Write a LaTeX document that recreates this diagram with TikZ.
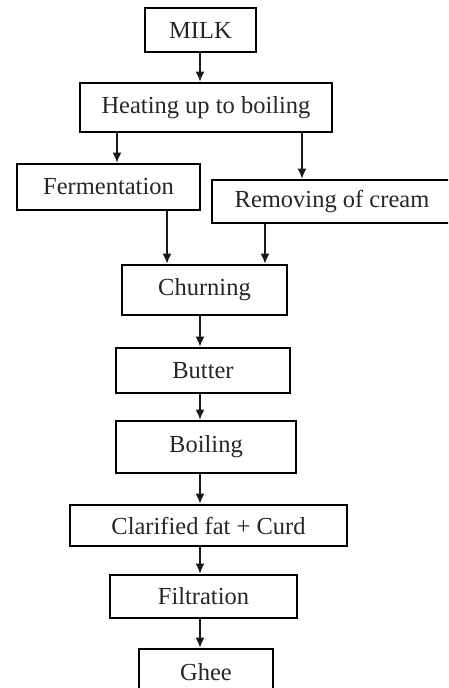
\documentclass[tikz,border=0pt]{standalone}
\usepackage{fontspec}
\setmainfont{Liberation Serif}
\usetikzlibrary{arrows.meta,positioning}

\tikzset{
  stage/.style={draw=black, line width=2.8pt, rectangle, inner sep=0pt,
    font=\fontsize{24.5}{28}\selectfont, text=black!85},
  flow/.style={-{Latex[length=10pt,width=9pt]}, line width=1.4pt, black!90},
}

\begin{document}
\begin{tikzpicture}[x=1pt, y=-1pt]

% canvas, cropped like the scan
\useasboundingbox (0,0) rectangle (448,688);
\clip (0,0) rectangle (448,688);

% Process stages
\node[stage, minimum width=111pt, minimum height=44pt] (milk) at (200.5,30) {MILK};
\node[stage, minimum width=252pt, minimum height=49pt] (heating) at (206,107.5) {Heating up to boiling};
\node[stage, minimum width=183pt, minimum height=46pt] (ferment) at (108.5,187) {Fermentation};
\node[stage, minimum width=240pt, minimum height=43pt] (removing) at (332,201.5) {Removing of cream};
\node[stage, minimum width=165pt, minimum height=50pt] (churning) at (204.5,290) {Churning};
\node[stage, minimum width=174pt, minimum height=45pt] (butter) at (203,370.5) {Butter};
\node[stage, minimum width=180pt, minimum height=52pt] (boiling) at (206,447) {Boiling};
\node[stage, minimum width=277pt, minimum height=41pt] (clarified) at (208.5,525.5) {Clarified fat + Curd};
\node[stage, minimum width=187pt, minimum height=43pt] (filtration) at (203.5,596.5) {Filtration};
\node[stage, minimum width=134pt, minimum height=46pt] (ghee) at (206,672) {Ghee};

% columns of the side branches
\coordinate (fx) at (117,0);
\coordinate (rx) at (302,0);
\coordinate (fcx) at (167,0);
\coordinate (rcx) at (265,0);
\coordinate (mx) at (200,0);

% Arrows
\draw[flow] (milk.south -| mx) -- (heating.north -| mx);
\draw[flow] (heating.south -| fx) -- (ferment.north -| fx);
\draw[flow] (heating.south -| rx) -- (removing.north -| rx);
\draw[flow] (ferment.south -| fcx) -- (churning.north -| fcx);
\draw[flow] (removing.south -| rcx) -- (churning.north -| rcx);
\draw[flow] (churning.south -| mx) -- (butter.north -| mx);
\draw[flow] (butter.south -| mx) -- (boiling.north -| mx);
\draw[flow] (boiling.south -| mx) -- (clarified.north -| mx);
\draw[flow] (clarified.south -| mx) -- (filtration.north -| mx);
\draw[flow] (filtration.south -| mx) -- (ghee.north -| mx);

\end{tikzpicture}
\end{document}
